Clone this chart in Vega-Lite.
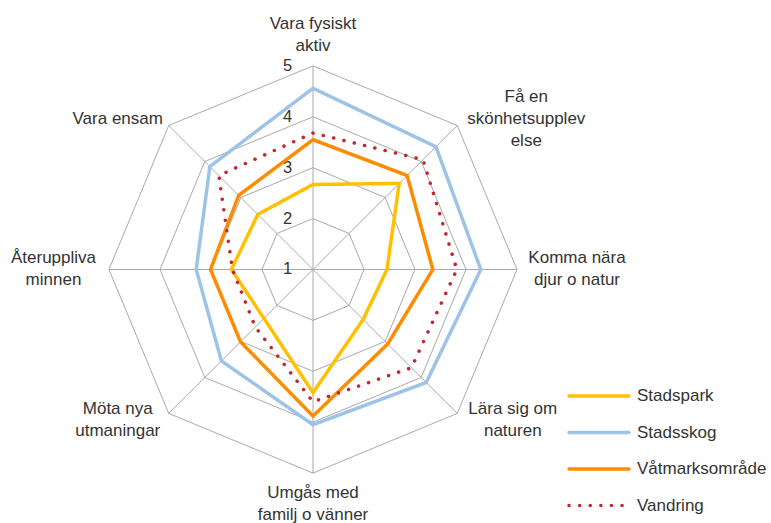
{
  "$schema": "https://vega.github.io/schema/vega-lite/v6.json",
  "width": 771,
  "height": 523,
  "padding": 0,
  "autosize": {"type": "fit", "contains": "padding"},
  "config": {"view": {"stroke": null}, "font": "Liberation Sans"},
  "datasets": {
    "cats": [
      {"k": 0, "category": "Vara fysiskt aktiv", "lines": ["Vara fysiskt", "aktiv"]},
      {"k": 1, "category": "Få en skönhetsupplevelse", "lines": ["Få en", "skönhetsupplev", "else"]},
      {"k": 2, "category": "Komma nära djur o natur", "lines": ["Komma nära", "djur o natur"]},
      {"k": 3, "category": "Lära sig om naturen", "lines": ["Lära sig om", "naturen"]},
      {"k": 4, "category": "Umgås med familj o vänner", "lines": ["Umgås med", "familj o vänner"]},
      {"k": 5, "category": "Möta nya utmaningar", "lines": ["Möta nya", "utmaningar"]},
      {"k": 6, "category": "Återuppliva minnen", "lines": ["Återuppliva", "minnen"]},
      {"k": 7, "category": "Vara ensam", "lines": ["Vara ensam"]}
    ],
    "ticks": [{"tick": 1}, {"tick": 2}, {"tick": 3}, {"tick": 4}, {"tick": 5}],
    "scores": [
      {"series": "Stadspark", "category": "Vara fysiskt aktiv", "value": 2.67},
      {"series": "Stadspark", "category": "Få en skönhetsupplevelse", "value": 3.39},
      {"series": "Stadspark", "category": "Komma nära djur o natur", "value": 2.45},
      {"series": "Stadspark", "category": "Lära sig om naturen", "value": 2.39},
      {"series": "Stadspark", "category": "Umgås med familj o vänner", "value": 3.42},
      {"series": "Stadspark", "category": "Möta nya utmaningar", "value": 2.36},
      {"series": "Stadspark", "category": "Återuppliva minnen", "value": 2.6},
      {"series": "Stadspark", "category": "Vara ensam", "value": 2.53},
      {"series": "Stadsskog", "category": "Vara fysiskt aktiv", "value": 4.56},
      {"series": "Stadsskog", "category": "Få en skönhetsupplevelse", "value": 4.41},
      {"series": "Stadsskog", "category": "Komma nära djur o natur", "value": 4.29},
      {"series": "Stadsskog", "category": "Lära sig om naturen", "value": 4.14},
      {"series": "Stadsskog", "category": "Umgås med familj o vänner", "value": 4.05},
      {"series": "Stadsskog", "category": "Möta nya utmaningar", "value": 3.54},
      {"series": "Stadsskog", "category": "Återuppliva minnen", "value": 3.29},
      {"series": "Stadsskog", "category": "Vara ensam", "value": 3.86},
      {"series": "Våtmarksområde", "category": "Vara fysiskt aktiv", "value": 3.55},
      {"series": "Våtmarksområde", "category": "Få en skönhetsupplevelse", "value": 3.61},
      {"series": "Våtmarksområde", "category": "Komma nära djur o natur", "value": 3.35},
      {"series": "Våtmarksområde", "category": "Lära sig om naturen", "value": 3.07},
      {"series": "Våtmarksområde", "category": "Umgås med familj o vänner", "value": 3.88},
      {"series": "Våtmarksområde", "category": "Möta nya utmaningar", "value": 3.01},
      {"series": "Våtmarksområde", "category": "Återuppliva minnen", "value": 3.01},
      {"series": "Våtmarksområde", "category": "Vara ensam", "value": 3.06},
      {"series": "Vandring", "category": "Vara fysiskt aktiv", "value": 3.68},
      {"series": "Vandring", "category": "Få en skönhetsupplevelse", "value": 4.05},
      {"series": "Vandring", "category": "Komma nära djur o natur", "value": 3.82},
      {"series": "Vandring", "category": "Lära sig om naturen", "value": 3.73},
      {"series": "Vandring", "category": "Umgås med familj o vänner", "value": 3.6},
      {"series": "Vandring", "category": "Möta nya utmaningar", "value": 2.6},
      {"series": "Vandring", "category": "Återuppliva minnen", "value": 2.58},
      {"series": "Vandring", "category": "Vara ensam", "value": 3.61}
    ]
  },
  "layer": [
    {
      "data": {"name": "cats"},
      "transform": [
        {"calculate": "[2, 3, 4, 5]", "as": "ring"},
        {"flatten": ["ring"]},
        {"calculate": "(datum.ring - 1) * sin(datum.k * PI / 4)", "as": "gx"},
        {"calculate": "(datum.ring - 1) * cos(datum.k * PI / 4)", "as": "gy"}
      ],
      "mark": {"type": "line", "interpolate": "linear-closed", "stroke": "#A9A9A9", "strokeWidth": 1},
      "encoding": {
        "x": {"field": "gx", "type": "quantitative", "scale": {"domain": [-6.137, 8.98], "nice": false, "zero": false}, "axis": null},
        "y": {"field": "gy", "type": "quantitative", "scale": {"domain": [-4.961, 5.294], "nice": false, "zero": false}, "axis": null},
        "detail": {"field": "ring", "type": "nominal"},
        "order": {"field": "k", "type": "quantitative"}
      }
    },
    {
      "data": {"name": "cats"},
      "transform": [
        {"calculate": "[0, 4]", "as": "sr"},
        {"flatten": ["sr"]},
        {"calculate": "datum.sr * sin(datum.k * PI / 4)", "as": "sx"},
        {"calculate": "datum.sr * cos(datum.k * PI / 4)", "as": "sy"}
      ],
      "mark": {"type": "line", "stroke": "#A9A9A9", "strokeWidth": 1},
      "encoding": {
        "x": {"field": "sx", "type": "quantitative"},
        "y": {"field": "sy", "type": "quantitative"},
        "detail": {"field": "k", "type": "nominal"},
        "order": {"field": "sr", "type": "quantitative"}
      }
    },
    {
      "data": {"name": "ticks"},
      "transform": [
        {"calculate": "datum.tick - 1", "as": "ty"},
        {"calculate": "-0.5", "as": "tx"}
      ],
      "mark": {"type": "text", "fontSize": 16.5, "color": "#333333", "align": "center", "baseline": "middle"},
      "encoding": {
        "x": {"field": "tx", "type": "quantitative"},
        "y": {"field": "ty", "type": "quantitative"},
        "text": {"field": "tick", "type": "quantitative"}
      }
    },
    {
      "data": {"name": "scores"},
      "transform": [
        {"lookup": "category", "from": {"data": {"name": "cats"}, "key": "category", "fields": ["k"]}},
        {"calculate": "(datum.value - 1) * sin(datum.k * PI / 4)", "as": "px"},
        {"calculate": "(datum.value - 1) * cos(datum.k * PI / 4)", "as": "py"}
      ],
      "mark": {"type": "line", "interpolate": "linear-closed", "strokeCap": "round", "strokeJoin": "miter"},
      "encoding": {
        "x": {"field": "px", "type": "quantitative"},
        "y": {"field": "py", "type": "quantitative"},
        "order": {"field": "k", "type": "quantitative"},
        "strokeWidth": {
          "field": "series", "type": "nominal", "legend": null,
          "scale": {"domain": ["Stadspark", "Stadsskog", "Våtmarksområde", "Vandring"], "range": [3.5, 3.5, 3.5, 4.2]}
        },
        "color": {
          "field": "series", "type": "nominal",
          "scale": {"domain": ["Stadspark", "Stadsskog", "Våtmarksområde", "Vandring"], "range": ["#FFC000", "#9DC3E6", "#FF8C00", "#C0282D"]},
          "legend": {"title": null, "orient": "none", "legendX": 567, "legendY": 374, "symbolType": "M-1,0H2", "symbolSize": 1600, "symbolStrokeWidth": 3.8, "labelFontSize": 17, "labelColor": "#333333", "labelOffset": 26, "rowPadding": 6.5, "encode": {"symbols": {"update": {"strokeCap": {"value": "round"}}}}}
        },
        "strokeDash": {
          "field": "series", "type": "nominal",
          "scale": {"domain": ["Stadspark", "Stadsskog", "Våtmarksområde", "Vandring"], "range": [[1, 0], [1, 0], [1, 0], [0.1, 10.5]]},
          "legend": {"title": null, "orient": "none", "legendX": 567, "legendY": 374, "symbolType": "M-1,0H2", "symbolSize": 1600, "symbolStrokeWidth": 3.8, "labelFontSize": 17, "labelColor": "#333333", "labelOffset": 26, "rowPadding": 6.5, "encode": {"symbols": {"update": {"strokeCap": {"value": "round"}}}}}
        }
      }
    },
    {
      "data": {"name": "cats"},
      "transform": [
        {"calculate": "sin(datum.k * PI / 4)", "as": "s"},
        {"calculate": "cos(datum.k * PI / 4)", "as": "c"},
        {"calculate": "length(datum.lines)", "as": "n"},
        {"calculate": "max(length(datum.lines[0]), datum.n > 1 ? length(datum.lines[1]) : 0, datum.n > 2 ? length(datum.lines[2]) : 0)", "as": "w"},
        {"calculate": "4 * datum.s + (abs(datum.s) > 0.1 ? (datum.s > 0 ? 1 : -1) * (datum.w * 4.5 + 6) / 51 : 0)", "as": "lx"},
        {"calculate": "datum.c * (4 + (abs(datum.c) > 0.9 ? 0.6 : 0.18)) + (datum.n - 1) * 11 / 51", "as": "ly"}
      ],
      "mark": {"type": "text", "fontSize": 17, "color": "#333333", "align": "center", "baseline": "middle", "lineHeight": 22},
      "encoding": {
        "x": {"field": "lx", "type": "quantitative"},
        "y": {"field": "ly", "type": "quantitative"},
        "text": {"field": "lines", "type": "nominal"}
      }
    }
  ]
}
